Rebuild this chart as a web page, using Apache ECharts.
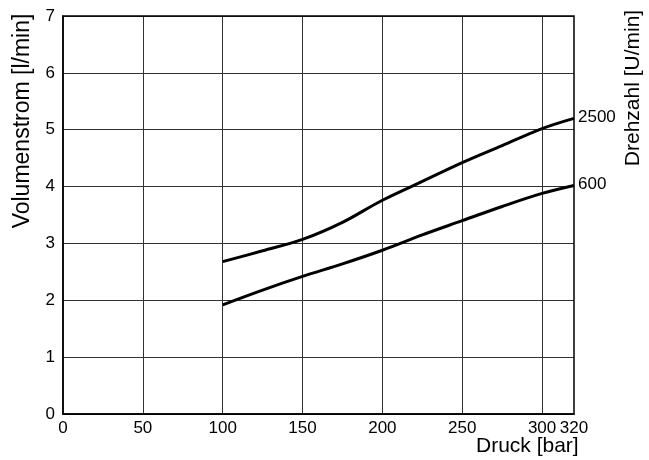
<!DOCTYPE html>
<html><head><meta charset="utf-8">
<script src="https://cdn.jsdelivr.net/npm/echarts@6/dist/echarts.min.js"></script>
<style>html,body{margin:0;padding:0;background:#fff}#c{width:649px;height:460px}</style>
</head><body><div id="c"></div>
<script>
const pressure = [100, 125, 150, 175, 200, 225, 250, 275, 300, 320];
const flow2500 = [2.68, 2.87, 3.07, 3.37, 3.76, 4.09, 4.42, 4.72, 5.02, 5.2];
const flow600 = [1.92, 2.18, 2.42, 2.64, 2.88, 3.15, 3.40, 3.65, 3.88, 4.02];
const speedLabels = ['2500', '600'];
const xTicks = [0, 50, 100, 150, 200, 250, 300, 320];
const xGrid = [50, 100, 150, 200, 250, 300];

const font = '"Liberation Sans", Arial, sans-serif';
const chart = echarts.init(document.getElementById('c'), null, {renderer: 'canvas'});
function mk(vals, name) {
  return {
    type: 'line', name: name, data: pressure.map((p, i) => [p, vals[i]]),
    smooth: 0.35, showSymbol: false, symbol: 'none',
    lineStyle: {color: '#000', width: 3},
    endLabel: {show: true, formatter: name, color: '#000', fontFamily: font, fontSize: 17, distance: 4, offset: [0, -1]},
    z: 5
  };
}
const s1 = mk(flow2500, speedLabels[0]);
const s2 = mk(flow600, speedLabels[1]);
s2.markLine = {
  silent: true, symbol: 'none', animation: false,
  label: {show: false},
  lineStyle: {color: '#333', width: 1, type: 'solid'},
  data: xGrid.map(v => ({xAxis: v}))
};
chart.setOption({
  animation: false,
  grid: {left: 63, top: 16, width: 511, height: 398, show: true, borderColor: '#000', borderWidth: 1.5, backgroundColor: 'transparent', z: 10},
  xAxis: {
    type: 'value', min: 0, max: 320, interval: 10,
    axisLine: {show: true, lineStyle: {color: '#000', width: 1.5}},
    axisTick: {show: false},
    splitLine: {show: false},
    axisLabel: {
      color: '#000', fontFamily: font, fontSize: 17, margin: 6,
      formatter: v => (xTicks.indexOf(v) >= 0 ? String(v) : '')
    }
  },
  yAxis: {
    type: 'value', min: 0, max: 7, interval: 1,
    axisLine: {show: true, lineStyle: {color: '#000', width: 1.5}},
    axisTick: {show: false},
    splitLine: {show: true, lineStyle: {color: '#333', width: 1}},
    axisLabel: {color: '#000', fontFamily: font, fontSize: 17, margin: 8}
  },
  graphic: [
    {type: 'text', left: 476, top: 436, style: {text: 'Druck [bar]', font: '21px ' + font, fill: '#000'}},
    {type: 'text', x: 11, y: 121, rotation: Math.PI / 2, originX: 0, originY: 0,
     style: {text: 'Volumenstrom [l/min]', font: '23px ' + font, fill: '#000', align: 'center', verticalAlign: 'top'}},
    {type: 'text', x: 623, y: 88, rotation: Math.PI / 2, originX: 0, originY: 0,
     style: {text: 'Drehzahl [U/min]', font: '21px ' + font, fill: '#000', align: 'center', verticalAlign: 'top'}}
  ],
  series: [s1, s2]
});
</script></body></html>
